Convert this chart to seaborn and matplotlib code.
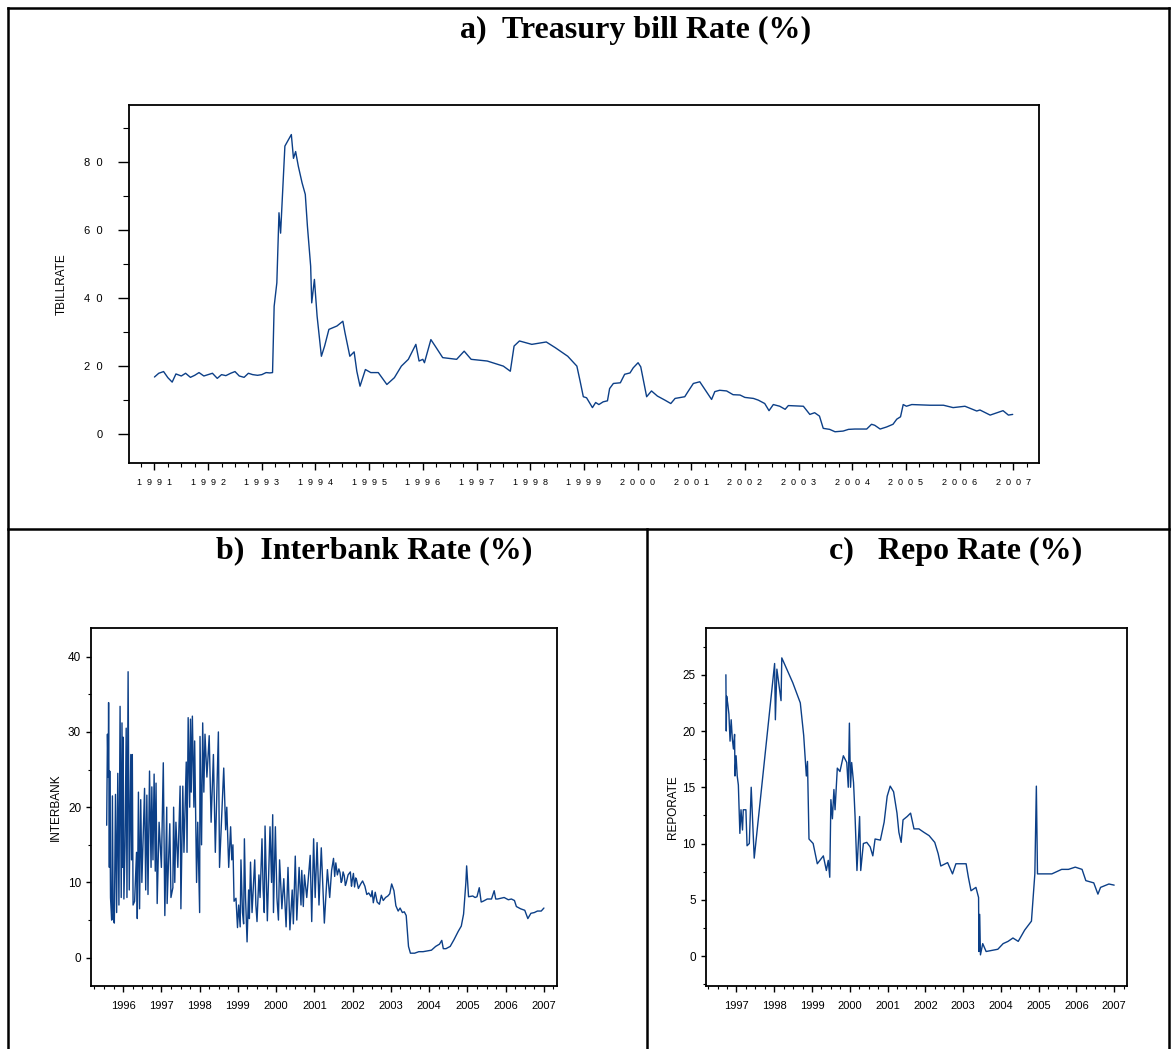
import matplotlib
matplotlib.use("Agg")
import matplotlib.pyplot as plt
from matplotlib.lines import Line2D
from matplotlib.ticker import MultipleLocator, FuncFormatter
import seaborn as sns
import pandas as pd

# ---------------------------------------------------------------- data
# Treasury bill rate (%), decimal years
tbill_year = [
    1991.00, 1991.08, 1991.17, 1991.25, 1991.33, 1991.40, 1991.50, 1991.58, 1991.67, 1991.75,
    1991.83, 1991.92, 1992.00, 1992.08, 1992.17, 1992.25, 1992.33, 1992.42, 1992.50, 1992.58,
    1992.67, 1992.75, 1992.83, 1992.92, 1993.00, 1993.08, 1993.15, 1993.20, 1993.23, 1993.28,
    1993.32, 1993.35, 1993.43, 1993.50, 1993.55, 1993.59, 1993.63, 1993.68, 1993.75, 1993.81,
    1993.85, 1993.91, 1993.93, 1993.98, 1994.03, 1994.11, 1994.17, 1994.25, 1994.40, 1994.51,
    1994.55, 1994.64, 1994.72, 1994.77, 1994.83, 1994.93, 1995.03, 1995.17, 1995.33, 1995.47,
    1995.60, 1995.73, 1995.87, 1995.93, 1996.00, 1996.03, 1996.15, 1996.23, 1996.37, 1996.63,
    1996.77, 1996.90, 1997.20, 1997.50, 1997.63, 1997.70, 1997.80, 1998.03, 1998.30, 1998.47,
    1998.70, 1998.87, 1998.93, 1998.99, 1999.05, 1999.16, 1999.22, 1999.28, 1999.36, 1999.44,
    1999.48, 1999.55, 1999.68, 1999.76, 1999.86, 1999.92, 2000.01, 2000.06, 2000.17, 2000.26,
    2000.37, 2000.51, 2000.62, 2000.70, 2000.88, 2000.94, 2001.04, 2001.16, 2001.38, 2001.44,
    2001.53, 2001.66, 2001.78, 2001.91, 2002.00, 2002.16, 2002.25, 2002.37, 2002.45, 2002.53,
    2002.65, 2002.75, 2002.81, 2003.09, 2003.21, 2003.30, 2003.39, 2003.46, 2003.58, 2003.68,
    2003.83, 2003.93, 2004.05, 2004.27, 2004.36, 2004.42, 2004.52, 2004.64, 2004.76, 2004.83,
    2004.90, 2004.95, 2005.01, 2005.11, 2005.45, 2005.70, 2005.88, 2006.10, 2006.32, 2006.38,
    2006.57, 2006.81, 2006.91, 2006.99,
]
tbill_rate = [
    16.7, 17.8, 18.3, 16.5, 15.2, 17.6, 17.0, 17.8, 16.6, 17.2,
    18.0, 17.0, 17.4, 17.8, 16.3, 17.4, 17.1, 17.8, 18.3, 17.0,
    16.6, 17.8, 17.4, 17.2, 17.4, 18.0, 17.9, 18.0, 37.5, 44.4,
    65.0, 59.0, 84.6, 86.6, 88.0, 81.0, 83.0, 78.7, 73.8, 70.4,
    61.0, 49.3, 38.5, 45.4, 34.6, 22.8, 25.8, 30.7, 31.7, 33.1,
    29.7, 22.8, 24.1, 18.4, 14.0, 18.9, 18.0, 18.0, 14.5, 16.5,
    19.9, 21.9, 26.3, 21.4, 21.9, 20.9, 27.7, 25.8, 22.4, 21.9,
    24.3, 21.9, 21.4, 19.9, 18.4, 25.8, 27.3, 26.3, 27.0, 25.3,
    22.8, 19.9, 15.5, 10.9, 10.6, 7.7, 9.2, 8.6, 9.4, 9.7,
    13.3, 14.8, 15.0, 17.5, 17.9, 19.4, 20.9, 19.7, 10.9, 12.6,
    11.1, 9.9, 8.9, 10.4, 10.9, 12.4, 14.8, 15.3, 10.1, 12.4,
    12.8, 12.6, 11.5, 11.4, 10.7, 10.4, 9.9, 8.9, 6.8, 8.6,
    8.1, 7.2, 8.3, 8.1, 5.7, 6.2, 5.2, 1.6, 1.3, 0.6,
    0.8, 1.3, 1.4, 1.4, 2.8, 2.5, 1.4, 2.0, 2.8, 4.3,
    5.0, 8.6, 8.1, 8.6, 8.4, 8.4, 7.7, 8.1, 6.7, 7.0,
    5.5, 6.8, 5.5, 5.7,
]

# Interbank rate (%), decimal years
interbank_year = [
    1995.57, 1995.59, 1995.61, 1995.62, 1995.64, 1995.65, 1995.67, 1995.70, 1995.72, 1995.74,
    1995.77, 1995.80, 1995.83, 1995.86, 1995.89, 1995.92, 1995.95, 1995.97, 1995.99, 1996.00,
    1996.02, 1996.05, 1996.08, 1996.10, 1996.13, 1996.16, 1996.20, 1996.22, 1996.24, 1996.26,
    1996.30, 1996.35, 1996.37, 1996.40, 1996.43, 1996.46, 1996.49, 1996.56, 1996.59, 1996.62,
    1996.65, 1996.69, 1996.73, 1996.75, 1996.78, 1996.81, 1996.84, 1996.86, 1996.89, 1996.94,
    1997.00, 1997.05, 1997.09, 1997.14, 1997.15, 1997.22, 1997.25, 1997.30, 1997.32, 1997.35,
    1997.38, 1997.43, 1997.49, 1997.51, 1997.56, 1997.59, 1997.65, 1997.67, 1997.70, 1997.74,
    1997.76, 1997.78, 1997.81, 1997.85, 1997.87, 1997.92, 1997.95, 1998.00, 1998.01, 1998.05,
    1998.08, 1998.11, 1998.14, 1998.19, 1998.25, 1998.30, 1998.36, 1998.41, 1998.49, 1998.52,
    1998.57, 1998.63, 1998.68, 1998.71, 1998.76, 1998.81, 1998.84, 1998.87, 1998.90, 1998.95,
    1998.99, 1999.02, 1999.06, 1999.08, 1999.12, 1999.15, 1999.17, 1999.20, 1999.24, 1999.28,
    1999.30, 1999.33, 1999.37, 1999.44, 1999.47, 1999.50, 1999.55, 1999.58, 1999.63, 1999.66,
    1999.69, 1999.71, 1999.77, 1999.84, 1999.88, 1999.91, 1999.93, 1999.98, 2000.02, 2000.06,
    2000.09, 2000.15, 2000.20, 2000.26, 2000.31, 2000.36, 2000.42, 2000.45, 2000.50, 2000.54,
    2000.60, 2000.65, 2000.67, 2000.71, 2000.74, 2000.80, 2000.89, 2000.93, 2000.98, 2001.02,
    2001.07, 2001.12, 2001.18, 2001.26, 2001.34, 2001.40, 2001.45, 2001.50, 2001.53, 2001.56,
    2001.60, 2001.64, 2001.67, 2001.70, 2001.72, 2001.75, 2001.78, 2001.81, 2001.83, 2001.88,
    2001.94, 2001.97, 2001.99, 2002.02, 2002.05, 2002.08, 2002.10, 2002.15, 2002.21, 2002.26,
    2002.32, 2002.37, 2002.42, 2002.48, 2002.51, 2002.54, 2002.59, 2002.64, 2002.70, 2002.75,
    2002.80, 2002.86, 2002.92, 2002.97, 2003.02, 2003.08, 2003.13, 2003.19, 2003.24, 2003.30,
    2003.35, 2003.40, 2003.46, 2003.51, 2003.62, 2003.73, 2003.84, 2003.95, 2004.06, 2004.17,
    2004.27, 2004.33, 2004.37, 2004.44, 2004.55, 2004.65, 2004.76, 2004.84, 2004.90, 2004.96,
    2004.98, 2005.03, 2005.14, 2005.20, 2005.25, 2005.31, 2005.36, 2005.41, 2005.52, 2005.63,
    2005.70, 2005.74, 2005.79, 2005.96, 2006.07, 2006.15, 2006.23, 2006.28, 2006.39, 2006.50,
    2006.58, 2006.66, 2006.75, 2006.83, 2006.93, 2007.00,
]
interbank_rate = [
    17.6, 29.7, 24.0, 33.9, 12.0, 24.8, 8.0, 5.0, 21.5, 5.2,
    4.6, 21.7, 6.0, 24.5, 7.0, 33.4, 8.0, 31.2, 12.0, 29.3,
    7.8, 15.0, 30.5, 8.0, 38.0, 9.0, 27.0, 13.0, 27.0, 7.0,
    7.5, 14.0, 5.2, 22.0, 6.5, 21.0, 10.0, 22.5, 9.0, 21.6,
    8.4, 24.8, 12.0, 22.7, 13.0, 24.4, 11.5, 23.2, 7.2, 18.0,
    12.0, 25.9, 5.6, 20.0, 7.2, 17.8, 8.0, 9.3, 20.0, 10.0,
    18.0, 12.0, 22.8, 6.5, 22.8, 14.0, 26.0, 14.0, 31.9, 20.0,
    31.7, 22.0, 32.1, 20.0, 28.8, 10.0, 18.0, 6.0, 29.4, 15.0,
    31.2, 22.0, 29.7, 24.0, 29.5, 18.0, 27.0, 14.0, 30.0, 12.0,
    18.0, 25.2, 17.0, 20.0, 12.0, 17.4, 13.0, 15.0, 7.5, 7.9,
    4.0, 7.0, 4.1, 13.0, 6.0, 4.5, 15.8, 8.0, 2.1, 9.0,
    5.2, 12.7, 6.0, 13.0, 7.0, 4.8, 11.0, 8.0, 15.8, 9.0,
    6.0, 17.5, 4.9, 17.4, 10.0, 19.0, 6.0, 17.4, 8.0, 5.0,
    13.0, 6.5, 10.5, 4.1, 12.0, 3.7, 9.0, 4.5, 13.5, 5.0,
    12.0, 7.0, 11.6, 6.8, 11.0, 8.0, 13.6, 4.8, 15.8, 8.0,
    15.3, 7.0, 14.6, 4.6, 11.7, 8.0, 11.6, 13.2, 10.8, 12.6,
    11.0, 11.8, 11.3, 10.0, 10.2, 11.4, 10.9, 9.6, 9.9, 11.0,
    11.4, 9.5, 10.3, 11.2, 9.4, 10.6, 10.4, 9.2, 9.8, 10.2,
    9.5, 8.4, 8.6, 8.1, 8.9, 7.3, 8.7, 7.4, 7.1, 8.3,
    7.6, 8.0, 8.2, 8.5, 9.8, 8.9, 6.9, 6.2, 6.6, 6.0,
    6.1, 5.6, 1.5, 0.6, 0.6, 0.8, 0.8, 0.9, 1.0, 1.5,
    1.8, 2.3, 1.2, 1.2, 1.5, 2.4, 3.5, 4.2, 5.8, 10.0,
    12.2, 8.1, 8.2, 8.0, 8.1, 9.3, 7.4, 7.5, 7.8, 7.8,
    8.9, 7.8, 7.8, 8.0, 7.7, 7.8, 7.6, 6.8, 6.5, 6.3,
    5.2, 5.9, 6.0, 6.2, 6.2, 6.6,
]

# Repo rate (%), decimal years
repo_year = [
    1996.72, 1996.73, 1996.74, 1996.77, 1996.80, 1996.83, 1996.86, 1996.89, 1996.92, 1996.95,
    1996.96, 1996.99, 1997.02, 1997.05, 1997.09, 1997.12, 1997.16, 1997.18, 1997.25, 1997.28,
    1997.34, 1997.39, 1997.47, 1998.01, 1998.03, 1998.07, 1998.18, 1998.20, 1998.49, 1998.69,
    1998.78, 1998.85, 1998.88, 1998.92, 1999.03, 1999.14, 1999.30, 1999.38, 1999.43, 1999.47,
    1999.50, 1999.54, 1999.58, 1999.61, 1999.67, 1999.74, 1999.83, 1999.92, 1999.96, 1999.99,
    2000.02, 2000.05, 2000.10, 2000.14, 2000.19, 2000.26, 2000.29, 2000.36, 2000.45, 2000.54,
    2000.61, 2000.67, 2000.81, 2000.91, 2000.99, 2001.07, 2001.16, 2001.25, 2001.30, 2001.36,
    2001.41, 2001.52, 2001.61, 2001.70, 2001.83, 2001.96, 2002.10, 2002.25, 2002.34, 2002.41,
    2002.59, 2002.72, 2002.81, 2002.94, 2003.08, 2003.14, 2003.21, 2003.34, 2003.41, 2003.42,
    2003.44, 2003.46, 2003.52, 2003.61, 2003.92, 2004.06, 2004.19, 2004.32, 2004.46, 2004.63,
    2004.81, 2004.90, 2004.94, 2004.97, 2005.03, 2005.35, 2005.61, 2005.79, 2005.97, 2006.15,
    2006.25, 2006.46, 2006.57, 2006.64, 2006.86, 2007.00,
]
repo_rate = [
    25.0, 20.0, 23.1, 22.4, 21.5, 19.1, 21.0, 19.3, 18.4, 19.7,
    16.0, 17.8, 16.0, 15.2, 10.9, 13.0, 11.2, 13.0, 13.0, 9.8,
    10.0, 15.0, 8.7, 26.0, 21.0, 25.5, 22.7, 26.5, 24.3, 22.5,
    19.6, 16.0, 17.3, 10.4, 10.0, 8.2, 8.9, 7.6, 8.5, 7.0,
    13.9, 12.2, 14.8, 13.0, 16.7, 16.4, 17.8, 17.2, 15.0, 20.7,
    15.0, 17.2, 15.4, 12.4, 7.6, 12.4, 7.6, 10.0, 10.1, 9.7,
    8.9, 10.4, 10.3, 11.9, 14.2, 15.1, 14.6, 12.7, 11.0, 10.1,
    12.1, 12.4, 12.7, 11.3, 11.3, 11.0, 10.7, 10.1, 9.1, 8.0,
    8.3, 7.3, 8.2, 8.2, 8.2, 7.0, 5.8, 6.1, 5.2, 0.4,
    3.7, 0.1, 1.1, 0.4, 0.6, 1.1, 1.3, 1.6, 1.3, 2.3,
    3.1, 7.3, 15.1, 7.3, 7.3, 7.3, 7.7, 7.7, 7.9, 7.7,
    6.7, 6.5, 5.5, 6.1, 6.4, 6.3,
]

titles = ["a)  Treasury bill Rate (%)", "b)  Interbank Rate (%)", "c)   Repo Rate (%)"]
ylabels = ["TBILLRATE", "INTERBANK", "REPORATE"]

# ---------------------------------------------------------------- style
sns.set_style("ticks")
plt.rcParams["font.family"] = ["Liberation Sans", "DejaVu Sans"]
for key in ("text.color", "axes.labelcolor", "xtick.color", "ytick.color", "axes.edgecolor"):
    plt.rcParams[key] = "black"
LINE = "#0c3f87"

W, H = 1172, 1049
fig = plt.figure(figsize=(W / 100, H / 100), dpi=100)
fig.patch.set_facecolor("white")


def frac_rect(left, top, right, bottom):
    return [left / W, 1 - bottom / H, (right - left) / W, (bottom - top) / H]


def spaced(v, pos):
    return "  ".join(f"{v:.0f}")


def draw_series(ax, years, values, name):
    df = pd.DataFrame({"year": years, name: values})
    sns.lineplot(data=df, x="year", y=name, ax=ax, color=LINE, lw=1.0,
                 estimator=None, sort=False)
    for s in ax.spines.values():
        s.set_linewidth(1.3)
        s.set_color("black")
    ax.set_xlabel("")


# ---- a) treasury bill
ax_a = fig.add_axes(frac_rect(128.7, 105.3, 1039, 462.7))
draw_series(ax_a, tbill_year, tbill_rate, ylabels[0])
ax_a.set_xlim(1990.52, 2007.48)
ax_a.xaxis.set_major_locator(MultipleLocator(1))
ax_a.xaxis.set_minor_locator(MultipleLocator(0.25))
ax_a.yaxis.set_major_locator(MultipleLocator(20))
ax_a.yaxis.set_minor_locator(MultipleLocator(10))
ax_a.xaxis.set_major_formatter(FuncFormatter(spaced))
ax_a.yaxis.set_major_formatter(FuncFormatter(spaced))
ax_a.set_ylim(-8.5, 96.6)
ax_a.tick_params(axis="x", which="major", length=5, width=1, labelsize=6.5, pad=6)
ax_a.tick_params(axis="x", which="minor", length=3, width=0.8)
ax_a.tick_params(axis="y", which="major", length=8, width=1, labelsize=8, pad=11)
ax_a.tick_params(axis="y", which="minor", length=4.3, width=0.8)
ax_a.set_ylabel(ylabels[0], fontsize=8.5)
ax_a.yaxis.set_label_coords(-0.0667, 0.5)

# ---- b) interbank
ax_b = fig.add_axes(frac_rect(91, 628.3, 557.3, 985.7))
draw_series(ax_b, interbank_year, interbank_rate, ylabels[1])
ax_b.set_xlim(1995.16, 2007.35)
ax_b.xaxis.set_major_locator(MultipleLocator(1))
ax_b.xaxis.set_minor_locator(MultipleLocator(0.25))
ax_b.yaxis.set_major_locator(MultipleLocator(10))
ax_b.yaxis.set_minor_locator(MultipleLocator(5))
ax_b.xaxis.set_major_formatter(FuncFormatter(lambda v, p: f"{v:.0f}"))
ax_b.set_ylim(-3.72, 43.77)

# ---- c) repo
ax_c = fig.add_axes(frac_rect(705.5, 628.3, 1127, 985.7))
draw_series(ax_c, repo_year, repo_rate, ylabels[2])
ax_c.set_xlim(1996.18, 2007.34)
ax_c.xaxis.set_major_locator(MultipleLocator(1))
ax_c.xaxis.set_minor_locator(MultipleLocator(0.25))
ax_c.yaxis.set_major_locator(MultipleLocator(5))
ax_c.yaxis.set_minor_locator(MultipleLocator(2.5))
ax_c.xaxis.set_major_formatter(FuncFormatter(lambda v, p: f"{v:.0f}"))
ax_c.set_ylim(-2.64, 29.13)

for ax, lab in ((ax_b, ylabels[1]), (ax_c, ylabels[2])):
    ax.tick_params(axis="x", which="major", length=4.3, width=1, labelsize=8, pad=6.5)
    ax.tick_params(axis="x", which="minor", length=2.2, width=0.8)
    ax.tick_params(axis="y", which="major", length=3.6, width=1, labelsize=8.5, pad=3.5)
    ax.tick_params(axis="y", which="minor", length=2.2, width=0.8)
    ax.set_ylabel(lab, fontsize=8.5)
ax_b.yaxis.set_label_coords(-0.0635, 0.5)
ax_c.yaxis.set_label_coords(-0.0638, 0.5)

# ---- panel titles
title_font = dict(family=["Liberation Serif", "DejaVu Serif"], fontweight="bold",
                  fontsize=23, color="black", ha="center", va="center")
fig.text(636 / W, 1 - 30 / H, titles[0], **title_font)
fig.text(374 / W, 1 - 551 / H, titles[1], **title_font)
fig.text(956 / W, 1 - 551 / H, titles[2], **title_font)

# ---- panel frame lines
def fline(x0, y0, x1, y1):
    fig.add_artist(Line2D([x0 / W, x1 / W], [1 - y0 / H, 1 - y1 / H],
                          color="black", lw=1.8, solid_capstyle="projecting"))

fline(7.5, 8, 1169, 8)
fline(7.5, 8, 7.5, 1049)
fline(1169, 8, 1169, 1049)
fline(7.5, 529, 1169, 529)
fline(647, 529, 647, 1049)

fig.savefig("out.png", dpi=100)
